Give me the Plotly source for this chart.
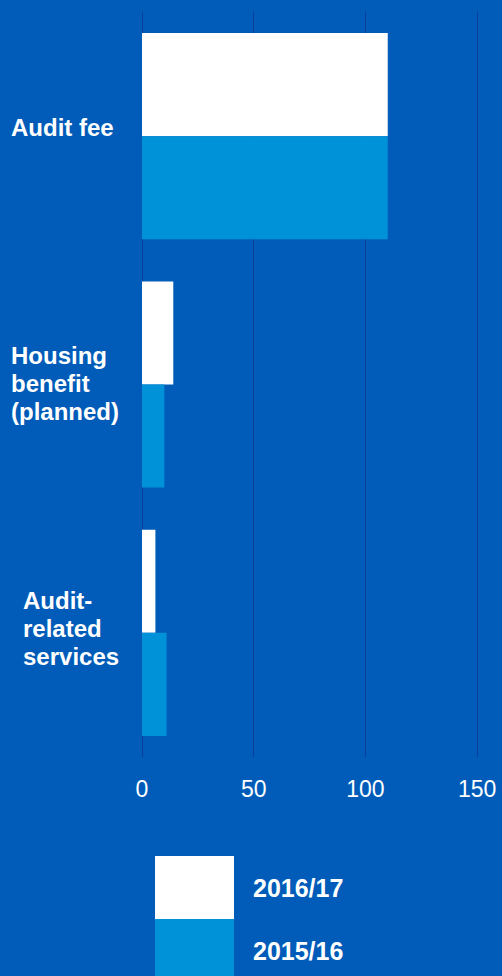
import plotly.graph_objects as go

categories = ["Audit fee", "Housing benefit (planned)", "Audit-related services"]
label_lines = [["Audit fee"], ["Housing", "benefit", "(planned)"], ["Audit-", "related", "services"]]
series_names = ["2016/17", "2015/16"]
values_2016_17 = [110, 14, 6]
values_2015_16 = [110, 10, 11]
tick_vals = [0, 50, 100, 150]

BG = "#005CB8"
LIGHT = "#0092D9"
GRID = "#0B3E98"
FONT = "Arial"

W, H = 502, 976
L, R, T, B = 142, 0, 12, 219
pw, ph = W - L - R, H - T - B

fig = go.Figure()
fig.add_trace(go.Bar(y=categories, x=values_2016_17, orientation="h", name=series_names[0],
                     marker=dict(color="#FFFFFF", line=dict(width=0))))
fig.add_trace(go.Bar(y=categories, x=values_2015_16, orientation="h", name=series_names[1],
                     marker=dict(color=LIGHT, line=dict(width=0))))

def px_x(px):
    return (px - L) / pw

def px_y(py):
    return (H - B - py) / ph

annotations = []
label_x = [9, 9, 21]
label_shifts = [[8.8], [28.8, 0.8, -27.2], [32.1, 4.1, -23.6]]
for cat, lines, lx, shifts in zip(categories, label_lines, label_x, label_shifts):
    for line, sh in zip(lines, shifts):
        annotations.append(dict(x=px_x(lx), xref="paper", y=cat, yref="y", text="<b>" + line + "</b>",
                                showarrow=False, xanchor="left", yanchor="middle", align="left",
                                yshift=sh, font=dict(family=FONT, size=24, color="white")))

shapes = []
leg_colors = ["#FFFFFF", LIGHT]
leg_tops = [856, 919]
for name, col, top in zip(series_names, leg_colors, leg_tops):
    shapes.append(dict(type="rect", xref="paper", yref="paper", x0=px_x(155), x1=px_x(234),
                       y0=px_y(top + 63), y1=px_y(top), fillcolor=col, line=dict(width=0), layer="above"))
    annotations.append(dict(x=px_x(251), xref="paper", y=px_y(top + 32), yref="paper",
                            text="<b>" + name + "</b>", showarrow=False, xanchor="left", yanchor="middle",
                            font=dict(family=FONT, size=25, color="white")))

fig.update_layout(
    width=W, height=H,
    margin=dict(l=L, r=R, t=T, b=B),
    paper_bgcolor=BG, plot_bgcolor=BG,
    barmode="group", bargap=0.17, bargroupgap=0,
    showlegend=False,
    xaxis=dict(range=[0, pw / (111.7 / 50)], tickvals=tick_vals, showgrid=True, gridcolor=GRID,
               gridwidth=1, zeroline=True, zerolinecolor=GRID, zerolinewidth=1, showline=False,
               ticks="", ticklabelstandoff=16,
               tickfont=dict(family=FONT, size=23, color="white")),
    yaxis=dict(autorange="reversed", showticklabels=False, showgrid=False, zeroline=False,
               showline=False, ticks=""),
    annotations=annotations,
    shapes=shapes,
)

fig.write_html("out.html")
